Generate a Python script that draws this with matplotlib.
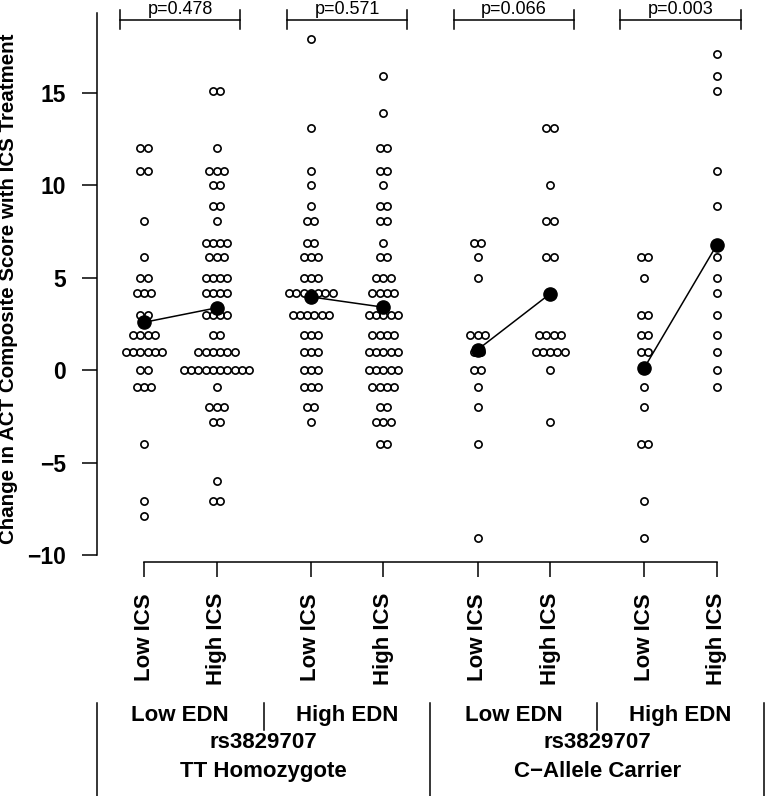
import numpy as np
import matplotlib
matplotlib.use("Agg")
import matplotlib.pyplot as plt
from matplotlib.transforms import blended_transform_factory

plt.rcParams['font.family'] = ['Liberation Sans', 'DejaVu Sans']

# change in ACT composite score, one list per group
tt_lowedn_lowics = [12, 12, 10.8, 10.8, 8.1, 6.1, 5, 5, 4.2, 4.2, 4.2, 3, 3,
                    1.9, 1.9, 1.9, 1.9, 1, 1, 1, 1, 1, 1, 0, 0,
                    -0.9, -0.9, -0.9, -4, -7.1, -7.9]
tt_lowedn_highics = [15.1, 15.1, 12, 10.8, 10.8, 10.8, 10, 10, 8.9, 8.9, 8.1,
                     6.9, 6.9, 6.9, 6.9, 6.1, 6.1, 6.1, 5, 5, 5, 5,
                     4.2, 4.2, 4.2, 4.2, 3, 3, 3, 3, 1.9, 1.9,
                     1, 1, 1, 1, 1, 1, 0, 0, 0, 0, 0, 0, 0, 0, 0, 0,
                     -0.9, -2, -2, -2, -2.8, -2.8, -6, -7.1, -7.1]
tt_highedn_lowics = [17.9, 13.1, 10.8, 10, 8.9, 8.1, 8.1, 6.9, 6.9,
                     6.1, 6.1, 6.1, 5, 5, 5, 4.2, 4.2, 4.2, 4.2, 4.2, 4.2, 4.2,
                     3, 3, 3, 3, 3, 3, 1.9, 1.9, 1.9, 1, 1, 1, 0, 0, 0,
                     -0.9, -0.9, -0.9, -2, -2, -2.8]
tt_highedn_highics = [15.9, 13.9, 12, 12, 10.8, 10.8, 10, 8.9, 8.9, 8.1, 8.1,
                      6.9, 6.1, 6.1, 5, 5, 5, 4.2, 4.2, 4.2, 4.2,
                      3, 3, 3, 3, 3, 1.9, 1.9, 1.9, 1.9, 1, 1, 1, 1, 1,
                      0, 0, 0, 0, 0, -0.9, -0.9, -0.9, -0.9, -2, -2,
                      -2.8, -2.8, -2.8, -4, -4]
c_lowedn_lowics = [6.9, 6.9, 6.1, 5, 1.9, 1.9, 1.9, 1, 1, 0, 0, -0.9, -2, -4, -9.1]
c_lowedn_highics = [13.1, 13.1, 10, 8.1, 8.1, 6.1, 6.1, 1.9, 1.9, 1.9, 1.9,
                    1, 1, 1, 1, 1, 0, -2.8]
c_highedn_lowics = [6.1, 6.1, 5, 3, 3, 1.9, 1.9, 1, 1, -0.9, -2, -4, -4, -7.1, -9.1]
c_highedn_highics = [17.1, 15.9, 15.1, 10.8, 8.9, 6.1, 5, 4.2, 3, 1.9, 1, 0, -0.9]

groups = [tt_lowedn_lowics, tt_lowedn_highics, tt_highedn_lowics, tt_highedn_highics,
          c_lowedn_lowics, c_lowedn_highics, c_highedn_lowics, c_highedn_highics]
positions = [1, 2, 3.3, 4.3, 5.6, 6.6, 7.9, 8.9]
tick_labels = ["Low ICS", "High ICS"] * 4
p_values = ["p=0.478", "p=0.571", "p=0.066", "p=0.003"]
edn_labels = ["Low EDN", "High EDN", "Low EDN", "High EDN"]
genotype_labels = ["rs3829707\nTT Homozygote", "rs3829707\nC\u2212Allele Carrier"]

W, H = 765, 796
fig = plt.figure(figsize=(W / 100, H / 100), dpi=100)
ax = fig.add_axes([96.9 / W, (H - 562) / H, 667 / W, (562 - 13) / H])
ax.set_xlim(0.35, 9.55)
ax.set_ylim(-10.379, 19.329)

# beeswarm-style stacking of equal values
step = 0.1
for pos, vals in zip(positions, groups):
    vals = np.array(vals, dtype=float)
    xs, ys = [], []
    for u in np.unique(vals):
        n = np.sum(vals == u)
        offs = (np.arange(n) - (n - 1) / 2) * step
        xs.extend(pos + offs)
        ys.extend([u] * n)
    ax.plot(xs, ys, 'o', ls='none', mfc='none', mec='black', ms=5.2, mew=1.2, zorder=2)

# group means joined by a line
means = [np.mean(g) for g in groups]
for i in range(0, 8, 2):
    ax.plot(positions[i:i + 2], means[i:i + 2], '-', color='black', lw=1.1, zorder=3)
    ax.plot(positions[i:i + 2], means[i:i + 2], 'o', color='black', ms=9.5, zorder=4)

# p-value brackets
for k in range(4):
    x0 = positions[2 * k] - 0.33
    x1 = positions[2 * k + 1] + 0.33
    ax.plot([x0, x1], [18.95, 18.95], color='black', lw=1.1, clip_on=False)
    for xe in (x0, x1):
        ax.plot([xe, xe], [18.46, 19.49], color='black', lw=1.1, clip_on=False)
    ax.text((x0 + x1) / 2, 19.3, p_values[k], ha='center', va='baseline', fontsize=13)

for s in ['top', 'right']:
    ax.spines[s].set_visible(False)
ax.spines['left'].set_bounds(-10, 19.329)
ax.spines['bottom'].set_bounds(positions[0], positions[-1])
for s in ['left', 'bottom']:
    ax.spines[s].set_linewidth(1.1)

ax.set_yticks([-10, -5, 0, 5, 10, 15])
ax.set_yticklabels(["\u221210", "\u22125", "0", "5", "10", "15"], fontsize=16.5, fontweight='bold')
ax.set_xticks(positions)
ax.set_xticklabels(tick_labels, rotation=90, fontsize=16, fontweight='bold')
ax.tick_params(axis='both', length=10.8, width=1.1, pad=11.5)

fig.text(9 / W, 1 - 289 / H, "Change in ACT Composite Score with ICS Treatment",
         rotation=90, ha='center', va='center', fontsize=14.8, fontweight='bold')

# grouping annotation below the axis
trans = blended_transform_factory(ax.transData, fig.transFigure)
for xs in [0.35, 4.95, 9.55]:
    ax.plot([xs, xs], [1 - 703 / H, 0], color='black', lw=1.1, transform=trans, clip_on=False)
for xs in [2.65, 7.25]:
    ax.plot([xs, xs], [1 - 703 / H, 1 - 730 / H], color='black', lw=1.1, transform=trans, clip_on=False)
for k in range(4):
    xc = (positions[2 * k] + positions[2 * k + 1]) / 2
    ax.text(xc, 1 - 721 / H, edn_labels[k], transform=trans, ha='center', va='baseline',
            fontsize=16, fontweight='bold')
for k in range(2):
    xc = (positions[4 * k] + positions[4 * k + 3]) / 2
    top, bottom = genotype_labels[k].split("\n")
    ax.text(xc, 1 - 748 / H, top, transform=trans, ha='center', va='baseline',
            fontsize=16, fontweight='bold')
    ax.text(xc, 1 - 777 / H, bottom, transform=trans, ha='center', va='baseline',
            fontsize=16, fontweight='bold')

fig.savefig("out.png", dpi=100)
